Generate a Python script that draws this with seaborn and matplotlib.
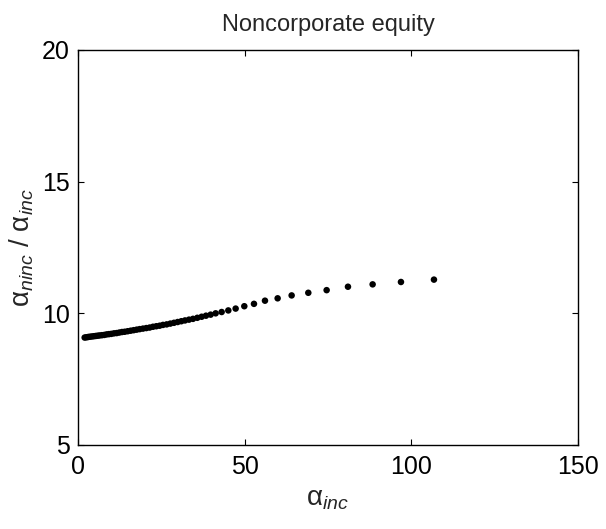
import pandas as pd
import matplotlib
matplotlib.use("Agg")
import matplotlib.pyplot as plt
import seaborn as sns

# --- data ---
alpha_inc = [2.0, 2.5, 3.0, 3.5, 4.1, 4.7, 5.3, 5.9, 6.5, 7.2, 7.9, 8.6, 9.3, 10.0,
             10.8, 11.6, 12.4, 13.2, 14.0, 14.9, 15.8, 16.7, 17.6, 18.5, 19.5, 20.5,
             21.5, 22.5, 23.5, 24.5, 25.5, 26.6, 27.7, 28.8, 29.9, 31.0, 32.1, 33.3,
             34.5, 35.8, 37.1, 38.4, 39.8, 41.3, 43.1, 45.1, 47.3, 49.9, 52.8, 56.1,
             59.9, 64.1, 69.1, 74.6, 81.0, 88.4, 96.9, 106.8]
ratio = [9.08, 9.09, 9.10, 9.11, 9.12, 9.13, 9.14, 9.15, 9.16, 9.17, 9.18, 9.20, 9.21, 9.22,
         9.24, 9.25, 9.27, 9.29, 9.30, 9.32, 9.34, 9.36, 9.38, 9.40, 9.42, 9.44,
         9.46, 9.49, 9.51, 9.53, 9.56, 9.58, 9.61, 9.64, 9.67, 9.70, 9.73, 9.76,
         9.79, 9.83, 9.87, 9.91, 9.95, 10.00, 10.05, 10.11, 10.18, 10.27, 10.36, 10.48,
         10.57, 10.68, 10.78, 10.88, 11.01, 11.10, 11.19, 11.28]
x_ticks = [0, 50, 100, 150]
y_ticks = [5, 10, 15, 20]

df = pd.DataFrame({"alpha_inc": alpha_inc, "ratio": ratio})

# --- style ---
sns.set_style("ticks")
plt.rcParams["font.family"] = ["Liberation Sans", "DejaVu Sans"]
plt.rcParams["mathtext.fontset"] = "custom"
plt.rcParams["mathtext.rm"] = "Liberation Sans"
plt.rcParams["mathtext.it"] = "Liberation Sans:italic"

fig = plt.figure(figsize=(6.06, 5.29), dpi=100)
ax = fig.add_axes([0.1287, 0.1588, 0.825, 0.7467])

sns.scatterplot(data=df, x="alpha_inc", y="ratio", ax=ax, color="black",
                s=22, edgecolor="none", linewidth=0)

ax.set_xlim(0, 150)
ax.set_ylim(5, 20)
ax.set_xticks(x_ticks)
ax.set_yticks(y_ticks)
ax.tick_params(direction="in", length=4, width=0.8, labelsize=18, colors="black",
               top=True, right=True)
ax.tick_params(axis="x", pad=7)
ax.tick_params(axis="y", pad=6)
for sp in ax.spines.values():
    sp.set_visible(True)
    sp.set_color("black")
    sp.set_linewidth(1.0)

ax.set_title("Noncorporate equity", fontsize=17, pad=14)
ax.set_xlabel(r"$\mathrm{\alpha}_{\mathit{inc}}$", fontsize=20, labelpad=5)
ax.set_ylabel(r"$\mathrm{\alpha}_{\mathit{ninc}}$ / $\mathrm{\alpha}_{\mathit{inc}}$",
              fontsize=20, labelpad=4)

fig.savefig("out.png", dpi=100)
